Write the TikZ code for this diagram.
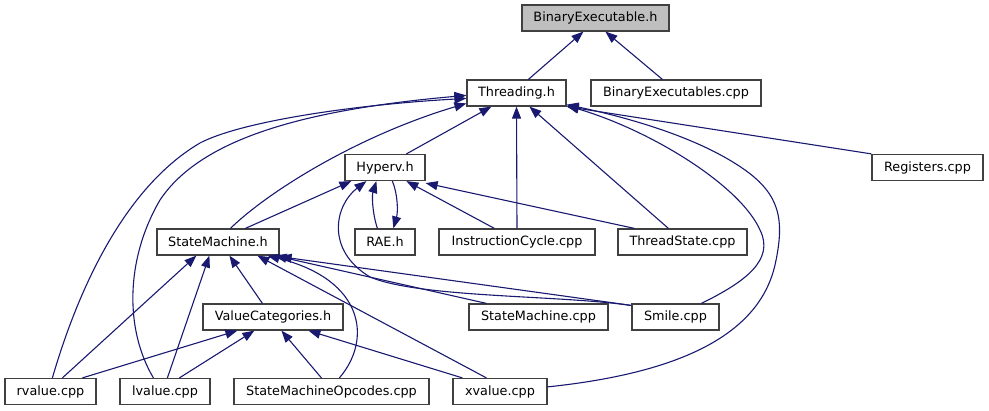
\documentclass[tikz,border=0pt]{standalone}
\usepackage{fontspec}
\setmainfont{DejaVu Sans}
\usetikzlibrary{calc,arrows.meta}
\definecolor{edgeblue}{HTML}{191970}
\definecolor{boxline}{HTML}{404040}
\definecolor{rootfill}{HTML}{BFBFBF}
\tikzset{
  box/.style={draw=boxline, line width=1.2pt, fill=white, rectangle, inner sep=0pt,
    minimum height=26pt, font=\fontsize{12.8}{14}\selectfont, text=black},
  rootbox/.style={box, fill=rootfill},
  edge/.style={draw=edgeblue, line width=1.1pt, -{Triangle[length=12pt,width=9pt]}},
}
\begin{document}
\begin{tikzpicture}[x=1pt,y=-1pt]
\useasboundingbox (0,0) rectangle (989,411);
% nodes
\node[rootbox, minimum width=147pt] (bin) at (595.5,18) {BinaryExecutable.h};
\node[box, minimum width=99pt] (thr) at (516.5,93) {Threading.h};
\node[box, minimum width=170pt] (bexs) at (676,93) {BinaryExecutables.cpp};
\node[box, minimum width=111pt] (reg) at (927.5,167.5) {Registers.cpp};
\node[box, minimum width=80pt] (hyp) at (385,167.5) {Hyperv.h};
\node[box, minimum width=60pt] (rae) at (385,242) {RAE.h};
\node[box, minimum width=156pt] (ic) at (517,242) {InstructionCycle.cpp};
\node[box, minimum width=129pt] (ts) at (682.5,242) {ThreadState.cpp};
\node[box, minimum width=122pt] (sm) at (218,242) {StateMachine.h};
\node[box, minimum width=140pt] (vc) at (273,317) {ValueCategories.h};
\node[box, minimum width=139pt] (smc) at (538.5,317) {StateMachine.cpp};
\node[box, minimum width=87pt] (sml) at (675.5,317) {Smile.cpp};
\node[box, minimum width=91pt] (rv) at (50.5,391.5) {rvalue.cpp};
\node[box, minimum width=90pt] (lv) at (165,391.5) {lvalue.cpp};
\node[box, minimum width=195pt] (smo) at (331.5,391.5) {StateMachineOpcodes.cpp};
\node[box, minimum width=94pt] (xv) at (500,391.5) {xvalue.cpp};
% edges to BinaryExecutable.h
\draw[edge] ($(thr.north west)+(62,0)$) -- ($(bin.south west)+(62,0)$);
\draw[edge] ($(bexs.north west)+(72,0)$) -- ($(bin.south west)+(84,0)$);
% edges to Threading.h
\draw[edge] ($(hyp.north west)+(62,0)$) -- ($(thr.south west)+(25,0)$);
\draw[edge] ($(rv.north west)+(48,0)$) .. controls (75,300) and (120,190) .. (200,143)
   .. controls (240,122) and (350,105) .. ($(thr.north west)+(0,19)$);
\draw[edge] ($(lv.north west)+(34,0)$) .. controls (125,330) and (125,260) .. (160,200)
   .. controls (200,140) and (300,110) .. ($(thr.north west)+(0,16)$);
\draw[edge] ($(sm.north west)+(74,0)$) .. controls (270,190) and (360,135) .. ($(thr.north west)+(0,24)$);
\draw[edge] (ic.north) -- (thr.south);
\draw[edge] ($(ts.north west)+(51,0)$) -- ($(thr.south west)+(63,0)$);
\draw[edge] ($(sml.north west)+(70,0)$) .. controls (745,282) and (775,260) .. (760,230)
   .. controls (740,185) and (650,130) .. ($(thr.south east)+(0,-1)$);
\draw[edge] ($(xv.north east)+(0,9)$) .. controls (690,372) and (760,330) .. (775,265)
   .. controls (785,220) and (780,195) .. (745,170)
   .. controls (700,138) and (630,118) .. ($(thr.south east)+(0,-2)$);
\draw[edge] (reg.north west) -- (thr.south east);
% edges to Hyperv.h
\draw[edge] ($(sm.north west)+(89,0)$) -- ($(hyp.south west)+(7,0)$);
\draw[edge] ($(rae.north west)+(23,0)$) .. controls (372,212) and (372,195) .. ($(hyp.south west)+(32,0)$);
\draw[edge] ($(hyp.south west)+(48,0)$) .. controls (398,195) and (398,212) .. ($(rae.north west)+(39,0)$);
\draw[edge] ($(sml.north west)+(-1,2)$) .. controls (560,295) and (420,298) .. (370,277)
   .. controls (325,250) and (335,205) .. ($(hyp.south west)+(22,0)$);
\draw[edge] ($(ic.north west)+(56,0)$) -- ($(hyp.south west)+(62,0)$);
\draw[edge] ($(ts.north west)+(17,0)$) -- ($(hyp.south east)+(0,2)$);
% edges to StateMachine.h
\draw[edge] ($(rv.north west)+(58,0)$) -- ($(sm.south west)+(40,0)$);
\draw[edge] ($(lv.north west)+(48,0)$) -- ($(sm.south west)+(53,0)$);
\draw[edge] ($(vc.north west)+(60,0)$) -- ($(sm.south west)+(73,0)$);
\draw[edge] ($(smo.north west)+(106,0)$) .. controls (372,340) and (365,280) .. ($(sm.south west)+(111,0)$);
\draw[edge] ($(smc.north west)+(18,0)$) -- ($(sm.south east)+(-5,0)$);
\draw[edge] ($(sml.north west)+(0,2)$) -- ($(sm.south east)+(0,1)$);
\draw[edge] ($(xv.north west)+(34,0)$) -- ($(sm.south west)+(101,0)$);
% edges to ValueCategories.h
\draw[edge] ($(rv.north west)+(78,0)$) -- ($(vc.south west)+(35,0)$);
\draw[edge] ($(lv.north west)+(60,0)$) -- ($(vc.south west)+(52,0)$);
\draw[edge] ($(smo.north west)+(88,0)$) -- ($(vc.south west)+(79,0)$);
\draw[edge] ($(xv.north west)+(10,0)$) -- ($(vc.south west)+(106,0)$);
\end{tikzpicture}
\end{document}
